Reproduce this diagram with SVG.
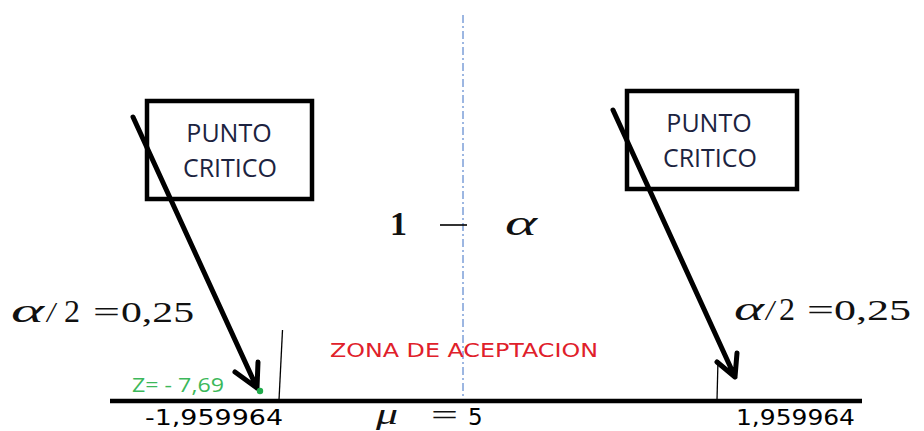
<svg xmlns="http://www.w3.org/2000/svg" width="924" height="431" viewBox="0 0 924 431">
<style>
.box{fill:#fff;stroke:#000;stroke-width:4.5}
.bt{font-family:"Open Sans","Liberation Sans",sans-serif;font-size:25px;fill:#1c2340;text-anchor:middle}
.arr{stroke:#000;stroke-width:5;fill:none;stroke-linecap:round;stroke-linejoin:round}
.m{font-family:"Liberation Serif",serif;font-size:29px;fill:#111}
.a{font-family:"Liberation Serif",serif;font-style:italic;font-size:34px;fill:#111}
.num{font-family:"DejaVu Sans",sans-serif;font-size:22px;fill:#000}
</style>
<rect width="924" height="431" fill="#fff"/>
<g id="axis">
<line x1="110" y1="401" x2="862" y2="401" stroke="#000" stroke-width="4.5"/>
<line x1="282.5" y1="330" x2="279" y2="400" stroke="#000" stroke-width="1.3"/>
<line x1="718" y1="360" x2="717" y2="400" stroke="#000" stroke-width="1.3"/>
<line x1="463" y1="15" x2="463" y2="399" stroke="#3a6fc4" stroke-width="1" stroke-dasharray="8 3 2 3"/>
</g>
<g id="left-box">
<rect class="box" x="147" y="101" width="165" height="98"/>
<text class="bt" x="229" y="142">PUNTO</text>
<text class="bt" x="230" y="177">CRITICO</text>
</g>
<g id="right-box">
<rect class="box" x="627" y="91" width="170" height="98"/>
<text class="bt" x="709" y="132">PUNTO</text>
<text class="bt" x="710" y="167">CRITICO</text>
</g>
<g id="connectors">
<path class="arr" d="M133 117 L257 388 M235 372 L257 388 L258 362"/>
<path class="arr" d="M613 110 L735 377 M717 362 L735 377 L737 353"/>
</g>
<g id="labels">
<text class="a" x="11" y="322" textLength="33" lengthAdjust="spacingAndGlyphs">α</text>
<text class="m" x="47" y="322" style="font-style:italic">/</text>
<text class="m" x="64" y="322" style="font-size:32px">2</text>
<text class="m" x="93" y="322" textLength="27" lengthAdjust="spacingAndGlyphs">=</text>
<text class="m" x="121" y="322" textLength="73" lengthAdjust="spacingAndGlyphs">0,25</text>
<text class="a" x="734" y="320" textLength="30" lengthAdjust="spacingAndGlyphs">α</text>
<text class="m" x="766" y="320" style="font-style:italic">/</text>
<text class="m" x="779" y="320" style="font-size:32px">2</text>
<text class="m" x="807" y="320" textLength="27" lengthAdjust="spacingAndGlyphs">=</text>
<text class="m" x="834" y="320" textLength="77" lengthAdjust="spacingAndGlyphs">0,25</text>
<text class="m" x="390" y="235" style="font-weight:bold;font-size:34px">1</text>
<line x1="440" y1="225" x2="467" y2="225" stroke="#000" stroke-width="1.6"/>
<text class="a" x="505" y="235" style="font-size:36px" textLength="32" lengthAdjust="spacingAndGlyphs">α</text>
<text x="330" y="357" font-family="'DejaVu Sans',sans-serif" font-size="19" fill="#e0202a" textLength="268" lengthAdjust="spacingAndGlyphs">ZONA DE ACEPTACION</text>
<text x="132" y="392" font-family="'Open Sans','Liberation Sans',sans-serif" font-size="20" fill="#3cb85a" textLength="92" lengthAdjust="spacingAndGlyphs">Z= - 7,69</text>
<circle cx="260" cy="391" r="3.2" fill="#1faa4a"/>
<text class="num" x="145" y="425" textLength="138" lengthAdjust="spacingAndGlyphs">-1,959964</text>
<text class="num" x="736" y="425" textLength="119" lengthAdjust="spacingAndGlyphs">1,959964</text>
<text class="a" x="376" y="424" style="font-size:30px" textLength="22" lengthAdjust="spacingAndGlyphs">μ</text>
<text class="m" x="431" y="425" style="font-size:30px" textLength="27" lengthAdjust="spacingAndGlyphs">=</text>
<text class="num" x="468" y="425" style="font-size:23px">5</text>
</g>
</svg>
